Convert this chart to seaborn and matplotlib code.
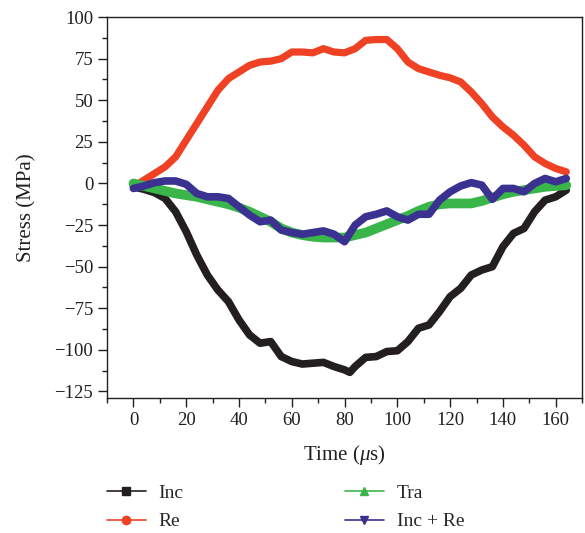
import numpy as np
import pandas as pd
import matplotlib
matplotlib.use("Agg")
import matplotlib.pyplot as plt
import seaborn as sns
from matplotlib.lines import Line2D
from matplotlib.ticker import MultipleLocator

# ---- data ----
t_inc = [0, 4, 8, 12, 16, 20, 24, 28, 32, 36, 40, 44, 48, 52, 56, 60, 64, 68, 72, 76, 80, 82,
         84, 88, 92, 96, 100, 104, 108, 112, 116, 120, 124, 128, 132, 136, 140, 144, 148, 152,
         156, 160, 164]
inc = [-2, -3.5, -5.5, -9, -17, -29, -43, -55, -64, -71, -82, -91, -96, -95, -104, -107, -108.5,
       -108, -107.5, -110, -112, -113.5, -110, -104.5, -104, -101, -100.5, -95, -87, -85, -77,
       -68, -63, -55, -52, -50, -38, -30, -27, -17, -10, -8, -4]

t_re = [2, 4, 8, 12, 16, 20, 24, 28, 32, 36, 40, 44, 48, 52, 56, 60, 64, 68, 72, 76, 80, 84,
        88, 92, 96, 100, 104, 108, 112, 116, 120, 124, 128, 132, 136, 140, 144, 148, 152, 156,
        160, 164]
re = [0, 2, 6, 10, 16, 26, 36, 46, 56, 63, 67, 71, 73, 73.5, 75, 79, 79, 78.5, 81, 79, 78.5,
      81, 86, 86.5, 86.5, 81, 73, 69, 67, 65, 63.5, 61, 55, 48, 40, 34, 29, 23, 16, 12, 9, 7]

t_tra = [0, 4, 8, 12, 16, 20, 24, 28, 32, 36, 40, 44, 48, 52, 56, 60, 64, 68, 72, 76, 80, 84,
         88, 92, 96, 100, 104, 108, 112, 116, 120, 124, 128, 132, 136, 140, 144, 148, 152, 156,
         160, 164]
tra = [0, -1.5, -3, -4.5, -6, -7, -8, -9.5, -11, -12.5, -14.5, -17, -20, -23, -27, -29.5, -31,
       -32, -32.5, -32.5, -32.5, -31, -29.5, -27, -24.5, -22, -19.5, -16.5, -14, -12.5, -12,
       -12, -12, -10.5, -8.5, -6.5, -5, -4, -3, -2, -1.5, -1]

t_sum = [0, 4, 8, 12, 16, 20, 24, 28, 32, 36, 40, 44, 48, 52, 56, 60, 64, 68, 72, 76, 80, 84,
         88, 92, 96, 100, 104, 108, 112, 116, 120, 124, 128, 132, 136, 140, 144, 148, 152, 156,
         160, 164]
incre = [-3, -1.5, 0.5, 1.5, 1.5, -0.5, -6, -8, -8, -9, -14, -19, -23, -22, -28, -29.5, -30.5,
         -29.5, -28.5, -30.5, -35, -25, -20, -18.5, -16.5, -20, -22, -18.5, -18.5, -10, -5,
         -1.5, 0.5, -1, -9.5, -3, -3, -5, 0, 3, 1, 3]

labels = ["Inc", "Re", "Tra", "Inc + Re"]
colors = ["#231f20", "#ef4123", "#39b54a", "#3a3191"]
markers = ["s", "o", "^", "v"]

sns.set_style("white")
plt.rcParams["font.family"] = ["Liberation Serif", "DejaVu Serif"]
plt.rcParams["mathtext.fontset"] = "custom"
plt.rcParams["mathtext.it"] = "Liberation Serif:italic"
plt.rcParams["mathtext.rm"] = "Liberation Serif"

fig = plt.figure(figsize=(5.85, 5.33), dpi=100)
ax = fig.add_axes([0.183, 0.253, 0.812, 0.715])

series = [(t_inc, inc, 5.5), (t_re, re, 5.2), (t_tra, tra, 7.0), (t_sum, incre, 5.5)]
order = [2, 0, 1, 3]
for i in order:
    x, y, lw = series[i]
    df = pd.DataFrame({"t": x, "s": y})
    sns.lineplot(data=df, x="t", y="s", ax=ax, color=colors[i], lw=lw,
                 solid_capstyle="round", solid_joinstyle="round", legend=False,
                 zorder=2 + i, estimator=None, sort=False)

ax.set_xlim(-10, 170)
ax.set_ylim(-129, 100)
ax.xaxis.set_major_locator(MultipleLocator(20))
ax.xaxis.set_minor_locator(MultipleLocator(10))
ax.yaxis.set_major_locator(MultipleLocator(25))
ax.yaxis.set_minor_locator(MultipleLocator(12.5))
ax.tick_params(which="both", direction="out", bottom=True, left=True, top=False, right=False,
               colors="#231f20", labelsize=13.5)
ax.tick_params(which="major", length=6.5, width=1)
ax.tick_params(which="minor", length=3.5, width=1)
for sp in ax.spines.values():
    sp.set_color("#231f20")
    sp.set_linewidth(1.0)

ax.set_xlabel(r"Time ($\mu$s)", fontsize=15, color="#231f20", labelpad=10)
ax.set_ylabel("Stress (MPa)", fontsize=15, color="#231f20", labelpad=13)

handles = [Line2D([0], [0], color=colors[i], lw=1.2, marker=markers[i], markersize=6)
           for i in range(4)]
fig.legend(handles, labels, ncol=2, frameon=False, loc="upper left",
           bbox_to_anchor=(0.153, 0.124), prop={"size": 14}, handlelength=2.0,
           columnspacing=8.3, labelspacing=0.55, handletextpad=0.65)

fig.savefig("out.png", dpi=100)
